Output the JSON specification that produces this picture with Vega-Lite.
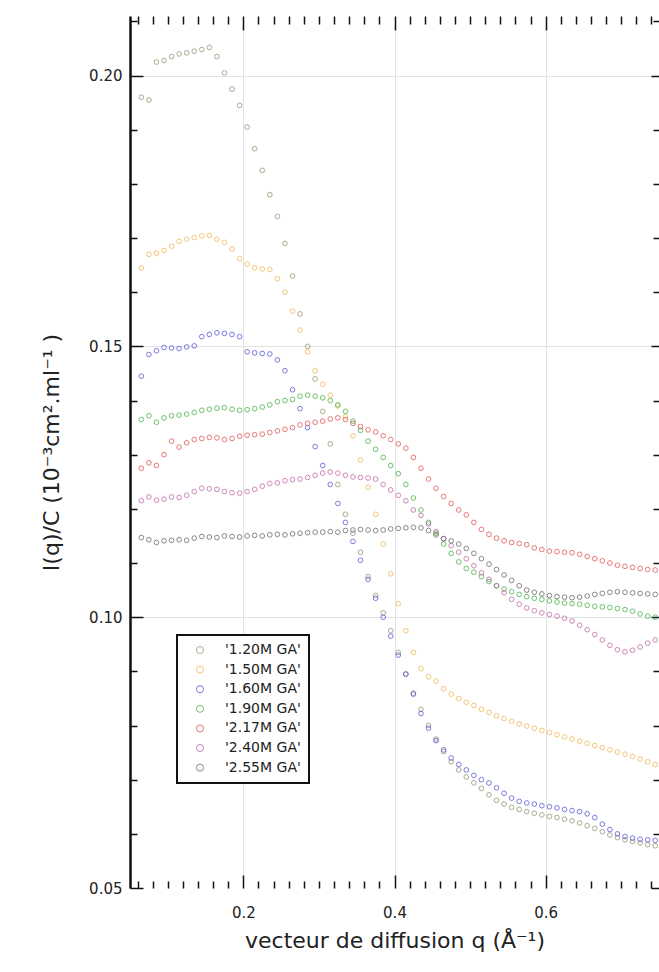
{
"$schema": "https://vega.github.io/schema/vega-lite/v6.json",
"width": 529, "height": 872,
"autosize": {"type": "none"},
"padding": {"left": 130, "top": 16, "right": 0, "bottom": 84},
"background": "white",
"config": {
  "view": {"stroke": null},
  "font": "DejaVu Sans",
  "axis": {"labelFont": "DejaVu Sans", "labelFontSize": 15, "titleFont": "DejaVu Sans", "titleFontSize": 22, "titleFontWeight": "normal", "labelColor": "#222", "titleColor": "#222", "tickColor": "#111", "tickWidth": 1.5, "labelOverlap": false, "labelFlush": false, "labelBound": false, "domain": false, "grid": false},
  "legend": {"strokeWidth": 2}
},
"data": {"values": [
{"s":"'1.20M GA'","q":0.065,"i":0.196},{"s":"'1.20M GA'","q":0.075,"i":0.1955},{"s":"'1.20M GA'","q":0.085,"i":0.2025},{"s":"'1.20M GA'","q":0.095,"i":0.2028},{"s":"'1.20M GA'","q":0.105,"i":0.2035},{"s":"'1.20M GA'","q":0.115,"i":0.204},{"s":"'1.20M GA'","q":0.125,"i":0.2042},{"s":"'1.20M GA'","q":0.135,"i":0.2045},{"s":"'1.20M GA'","q":0.145,"i":0.2048},{"s":"'1.20M GA'","q":0.155,"i":0.2052},{"s":"'1.20M GA'","q":0.165,"i":0.2035},{"s":"'1.20M GA'","q":0.175,"i":0.2005},{"s":"'1.20M GA'","q":0.185,"i":0.1975},{"s":"'1.20M GA'","q":0.195,"i":0.1945},{"s":"'1.20M GA'","q":0.205,"i":0.1905},{"s":"'1.20M GA'","q":0.215,"i":0.1865},{"s":"'1.20M GA'","q":0.225,"i":0.1825},{"s":"'1.20M GA'","q":0.235,"i":0.178},{"s":"'1.20M GA'","q":0.245,"i":0.174},{"s":"'1.20M GA'","q":0.255,"i":0.169},{"s":"'1.20M GA'","q":0.265,"i":0.163},{"s":"'1.20M GA'","q":0.275,"i":0.156},{"s":"'1.20M GA'","q":0.285,"i":0.150},{"s":"'1.20M GA'","q":0.295,"i":0.144},{"s":"'1.20M GA'","q":0.305,"i":0.138},{"s":"'1.20M GA'","q":0.315,"i":0.132},{"s":"'1.20M GA'","q":0.325,"i":0.1245},{"s":"'1.20M GA'","q":0.335,"i":0.119},{"s":"'1.20M GA'","q":0.345,"i":0.1155},{"s":"'1.20M GA'","q":0.355,"i":0.112},{"s":"'1.20M GA'","q":0.365,"i":0.1075},{"s":"'1.20M GA'","q":0.375,"i":0.104},{"s":"'1.20M GA'","q":0.385,"i":0.1008},{"s":"'1.20M GA'","q":0.395,"i":0.0975},{"s":"'1.20M GA'","q":0.405,"i":0.0935},{"s":"'1.20M GA'","q":0.415,"i":0.0895},{"s":"'1.20M GA'","q":0.425,"i":0.086},{"s":"'1.20M GA'","q":0.435,"i":0.083},{"s":"'1.20M GA'","q":0.445,"i":0.08},{"s":"'1.20M GA'","q":0.455,"i":0.0775},{"s":"'1.20M GA'","q":0.465,"i":0.0752},{"s":"'1.20M GA'","q":0.475,"i":0.0733},{"s":"'1.20M GA'","q":0.485,"i":0.0718},{"s":"'1.20M GA'","q":0.495,"i":0.0705},{"s":"'1.20M GA'","q":0.505,"i":0.0694},{"s":"'1.20M GA'","q":0.515,"i":0.0684},{"s":"'1.20M GA'","q":0.525,"i":0.0672},{"s":"'1.20M GA'","q":0.535,"i":0.0662},{"s":"'1.20M GA'","q":0.545,"i":0.0655},{"s":"'1.20M GA'","q":0.555,"i":0.0649},{"s":"'1.20M GA'","q":0.565,"i":0.0645},{"s":"'1.20M GA'","q":0.575,"i":0.0641},{"s":"'1.20M GA'","q":0.585,"i":0.0638},{"s":"'1.20M GA'","q":0.595,"i":0.0635},{"s":"'1.20M GA'","q":0.605,"i":0.0632},{"s":"'1.20M GA'","q":0.615,"i":0.063},{"s":"'1.20M GA'","q":0.625,"i":0.0627},{"s":"'1.20M GA'","q":0.635,"i":0.0624},{"s":"'1.20M GA'","q":0.645,"i":0.062},{"s":"'1.20M GA'","q":0.655,"i":0.0615},{"s":"'1.20M GA'","q":0.665,"i":0.061},{"s":"'1.20M GA'","q":0.675,"i":0.0604},{"s":"'1.20M GA'","q":0.685,"i":0.0598},{"s":"'1.20M GA'","q":0.695,"i":0.0593},{"s":"'1.20M GA'","q":0.705,"i":0.0589},{"s":"'1.20M GA'","q":0.715,"i":0.0586},{"s":"'1.20M GA'","q":0.725,"i":0.0583},{"s":"'1.20M GA'","q":0.735,"i":0.058},{"s":"'1.20M GA'","q":0.745,"i":0.0578},
{"s":"'1.50M GA'","q":0.065,"i":0.1645},{"s":"'1.50M GA'","q":0.075,"i":0.167},{"s":"'1.50M GA'","q":0.085,"i":0.1672},{"s":"'1.50M GA'","q":0.095,"i":0.1677},{"s":"'1.50M GA'","q":0.105,"i":0.1685},{"s":"'1.50M GA'","q":0.115,"i":0.1694},{"s":"'1.50M GA'","q":0.125,"i":0.1698},{"s":"'1.50M GA'","q":0.135,"i":0.1701},{"s":"'1.50M GA'","q":0.145,"i":0.1704},{"s":"'1.50M GA'","q":0.155,"i":0.1705},{"s":"'1.50M GA'","q":0.165,"i":0.1698},{"s":"'1.50M GA'","q":0.175,"i":0.1692},{"s":"'1.50M GA'","q":0.185,"i":0.168},{"s":"'1.50M GA'","q":0.195,"i":0.1662},{"s":"'1.50M GA'","q":0.205,"i":0.1652},{"s":"'1.50M GA'","q":0.215,"i":0.1645},{"s":"'1.50M GA'","q":0.225,"i":0.1643},{"s":"'1.50M GA'","q":0.235,"i":0.1642},{"s":"'1.50M GA'","q":0.245,"i":0.1625},{"s":"'1.50M GA'","q":0.255,"i":0.16},{"s":"'1.50M GA'","q":0.265,"i":0.1565},{"s":"'1.50M GA'","q":0.275,"i":0.153},{"s":"'1.50M GA'","q":0.285,"i":0.149},{"s":"'1.50M GA'","q":0.295,"i":0.1455},{"s":"'1.50M GA'","q":0.305,"i":0.143},{"s":"'1.50M GA'","q":0.315,"i":0.141},{"s":"'1.50M GA'","q":0.325,"i":0.139},{"s":"'1.50M GA'","q":0.335,"i":0.137},{"s":"'1.50M GA'","q":0.345,"i":0.1335},{"s":"'1.50M GA'","q":0.355,"i":0.129},{"s":"'1.50M GA'","q":0.365,"i":0.124},{"s":"'1.50M GA'","q":0.375,"i":0.119},{"s":"'1.50M GA'","q":0.385,"i":0.1135},{"s":"'1.50M GA'","q":0.395,"i":0.108},{"s":"'1.50M GA'","q":0.405,"i":0.1025},{"s":"'1.50M GA'","q":0.415,"i":0.0975},{"s":"'1.50M GA'","q":0.425,"i":0.0935},{"s":"'1.50M GA'","q":0.435,"i":0.0905},{"s":"'1.50M GA'","q":0.445,"i":0.089},{"s":"'1.50M GA'","q":0.455,"i":0.0882},{"s":"'1.50M GA'","q":0.465,"i":0.0868},{"s":"'1.50M GA'","q":0.475,"i":0.0858},{"s":"'1.50M GA'","q":0.485,"i":0.085},{"s":"'1.50M GA'","q":0.495,"i":0.0843},{"s":"'1.50M GA'","q":0.505,"i":0.0837},{"s":"'1.50M GA'","q":0.515,"i":0.083},{"s":"'1.50M GA'","q":0.525,"i":0.0824},{"s":"'1.50M GA'","q":0.535,"i":0.0818},{"s":"'1.50M GA'","q":0.545,"i":0.0813},{"s":"'1.50M GA'","q":0.555,"i":0.0808},{"s":"'1.50M GA'","q":0.565,"i":0.0803},{"s":"'1.50M GA'","q":0.575,"i":0.0799},{"s":"'1.50M GA'","q":0.585,"i":0.0795},{"s":"'1.50M GA'","q":0.595,"i":0.0791},{"s":"'1.50M GA'","q":0.605,"i":0.0787},{"s":"'1.50M GA'","q":0.615,"i":0.0783},{"s":"'1.50M GA'","q":0.625,"i":0.0779},{"s":"'1.50M GA'","q":0.635,"i":0.0775},{"s":"'1.50M GA'","q":0.645,"i":0.0771},{"s":"'1.50M GA'","q":0.655,"i":0.0767},{"s":"'1.50M GA'","q":0.665,"i":0.0763},{"s":"'1.50M GA'","q":0.675,"i":0.0759},{"s":"'1.50M GA'","q":0.685,"i":0.0755},{"s":"'1.50M GA'","q":0.695,"i":0.0751},{"s":"'1.50M GA'","q":0.705,"i":0.0747},{"s":"'1.50M GA'","q":0.715,"i":0.0743},{"s":"'1.50M GA'","q":0.725,"i":0.0738},{"s":"'1.50M GA'","q":0.735,"i":0.0733},{"s":"'1.50M GA'","q":0.745,"i":0.0728},
{"s":"'1.60M GA'","q":0.065,"i":0.1445},{"s":"'1.60M GA'","q":0.075,"i":0.1485},{"s":"'1.60M GA'","q":0.085,"i":0.1492},{"s":"'1.60M GA'","q":0.095,"i":0.1498},{"s":"'1.60M GA'","q":0.105,"i":0.1497},{"s":"'1.60M GA'","q":0.115,"i":0.1496},{"s":"'1.60M GA'","q":0.125,"i":0.1499},{"s":"'1.60M GA'","q":0.135,"i":0.1501},{"s":"'1.60M GA'","q":0.145,"i":0.1518},{"s":"'1.60M GA'","q":0.155,"i":0.1522},{"s":"'1.60M GA'","q":0.165,"i":0.1525},{"s":"'1.60M GA'","q":0.175,"i":0.1524},{"s":"'1.60M GA'","q":0.185,"i":0.1522},{"s":"'1.60M GA'","q":0.195,"i":0.1518},{"s":"'1.60M GA'","q":0.205,"i":0.149},{"s":"'1.60M GA'","q":0.215,"i":0.1488},{"s":"'1.60M GA'","q":0.225,"i":0.1487},{"s":"'1.60M GA'","q":0.235,"i":0.1486},{"s":"'1.60M GA'","q":0.245,"i":0.1475},{"s":"'1.60M GA'","q":0.255,"i":0.1455},{"s":"'1.60M GA'","q":0.265,"i":0.142},{"s":"'1.60M GA'","q":0.275,"i":0.1385},{"s":"'1.60M GA'","q":0.285,"i":0.135},{"s":"'1.60M GA'","q":0.295,"i":0.1315},{"s":"'1.60M GA'","q":0.305,"i":0.128},{"s":"'1.60M GA'","q":0.315,"i":0.1245},{"s":"'1.60M GA'","q":0.325,"i":0.121},{"s":"'1.60M GA'","q":0.335,"i":0.1175},{"s":"'1.60M GA'","q":0.345,"i":0.114},{"s":"'1.60M GA'","q":0.355,"i":0.1105},{"s":"'1.60M GA'","q":0.365,"i":0.107},{"s":"'1.60M GA'","q":0.375,"i":0.1035},{"s":"'1.60M GA'","q":0.385,"i":0.1},{"s":"'1.60M GA'","q":0.395,"i":0.0965},{"s":"'1.60M GA'","q":0.405,"i":0.093},{"s":"'1.60M GA'","q":0.415,"i":0.0895},{"s":"'1.60M GA'","q":0.425,"i":0.0858},{"s":"'1.60M GA'","q":0.435,"i":0.0822},{"s":"'1.60M GA'","q":0.445,"i":0.0795},{"s":"'1.60M GA'","q":0.455,"i":0.0772},{"s":"'1.60M GA'","q":0.465,"i":0.0755},{"s":"'1.60M GA'","q":0.475,"i":0.074},{"s":"'1.60M GA'","q":0.485,"i":0.0728},{"s":"'1.60M GA'","q":0.495,"i":0.0718},{"s":"'1.60M GA'","q":0.505,"i":0.0708},{"s":"'1.60M GA'","q":0.515,"i":0.07},{"s":"'1.60M GA'","q":0.525,"i":0.0694},{"s":"'1.60M GA'","q":0.535,"i":0.0685},{"s":"'1.60M GA'","q":0.545,"i":0.0675},{"s":"'1.60M GA'","q":0.555,"i":0.0666},{"s":"'1.60M GA'","q":0.565,"i":0.066},{"s":"'1.60M GA'","q":0.575,"i":0.0657},{"s":"'1.60M GA'","q":0.585,"i":0.0655},{"s":"'1.60M GA'","q":0.595,"i":0.0652},{"s":"'1.60M GA'","q":0.605,"i":0.065},{"s":"'1.60M GA'","q":0.615,"i":0.0648},{"s":"'1.60M GA'","q":0.625,"i":0.0645},{"s":"'1.60M GA'","q":0.635,"i":0.0643},{"s":"'1.60M GA'","q":0.645,"i":0.0641},{"s":"'1.60M GA'","q":0.655,"i":0.0637},{"s":"'1.60M GA'","q":0.665,"i":0.063},{"s":"'1.60M GA'","q":0.675,"i":0.0618},{"s":"'1.60M GA'","q":0.685,"i":0.0608},{"s":"'1.60M GA'","q":0.695,"i":0.06},{"s":"'1.60M GA'","q":0.705,"i":0.0595},{"s":"'1.60M GA'","q":0.715,"i":0.0592},{"s":"'1.60M GA'","q":0.725,"i":0.059},{"s":"'1.60M GA'","q":0.735,"i":0.0589},{"s":"'1.60M GA'","q":0.745,"i":0.0588},
{"s":"'1.90M GA'","q":0.065,"i":0.1365},{"s":"'1.90M GA'","q":0.075,"i":0.1372},{"s":"'1.90M GA'","q":0.085,"i":0.136},{"s":"'1.90M GA'","q":0.095,"i":0.1368},{"s":"'1.90M GA'","q":0.105,"i":0.1372},{"s":"'1.90M GA'","q":0.115,"i":0.1373},{"s":"'1.90M GA'","q":0.125,"i":0.1375},{"s":"'1.90M GA'","q":0.135,"i":0.1378},{"s":"'1.90M GA'","q":0.145,"i":0.1382},{"s":"'1.90M GA'","q":0.155,"i":0.1384},{"s":"'1.90M GA'","q":0.165,"i":0.1386},{"s":"'1.90M GA'","q":0.175,"i":0.1387},{"s":"'1.90M GA'","q":0.185,"i":0.1384},{"s":"'1.90M GA'","q":0.195,"i":0.1382},{"s":"'1.90M GA'","q":0.205,"i":0.1383},{"s":"'1.90M GA'","q":0.215,"i":0.1385},{"s":"'1.90M GA'","q":0.225,"i":0.1388},{"s":"'1.90M GA'","q":0.235,"i":0.1392},{"s":"'1.90M GA'","q":0.245,"i":0.1398},{"s":"'1.90M GA'","q":0.255,"i":0.14},{"s":"'1.90M GA'","q":0.265,"i":0.1402},{"s":"'1.90M GA'","q":0.275,"i":0.1408},{"s":"'1.90M GA'","q":0.285,"i":0.141},{"s":"'1.90M GA'","q":0.295,"i":0.1408},{"s":"'1.90M GA'","q":0.305,"i":0.1405},{"s":"'1.90M GA'","q":0.315,"i":0.14},{"s":"'1.90M GA'","q":0.325,"i":0.1392},{"s":"'1.90M GA'","q":0.335,"i":0.138},{"s":"'1.90M GA'","q":0.345,"i":0.1362},{"s":"'1.90M GA'","q":0.355,"i":0.1345},{"s":"'1.90M GA'","q":0.365,"i":0.1325},{"s":"'1.90M GA'","q":0.375,"i":0.131},{"s":"'1.90M GA'","q":0.385,"i":0.1295},{"s":"'1.90M GA'","q":0.395,"i":0.128},{"s":"'1.90M GA'","q":0.405,"i":0.1265},{"s":"'1.90M GA'","q":0.415,"i":0.1245},{"s":"'1.90M GA'","q":0.425,"i":0.122},{"s":"'1.90M GA'","q":0.435,"i":0.1198},{"s":"'1.90M GA'","q":0.445,"i":0.1175},{"s":"'1.90M GA'","q":0.455,"i":0.1155},{"s":"'1.90M GA'","q":0.465,"i":0.1135},{"s":"'1.90M GA'","q":0.475,"i":0.1118},{"s":"'1.90M GA'","q":0.485,"i":0.1102},{"s":"'1.90M GA'","q":0.495,"i":0.109},{"s":"'1.90M GA'","q":0.505,"i":0.1083},{"s":"'1.90M GA'","q":0.515,"i":0.1075},{"s":"'1.90M GA'","q":0.525,"i":0.1066},{"s":"'1.90M GA'","q":0.535,"i":0.1058},{"s":"'1.90M GA'","q":0.545,"i":0.1052},{"s":"'1.90M GA'","q":0.555,"i":0.1047},{"s":"'1.90M GA'","q":0.565,"i":0.1042},{"s":"'1.90M GA'","q":0.575,"i":0.1038},{"s":"'1.90M GA'","q":0.585,"i":0.1035},{"s":"'1.90M GA'","q":0.595,"i":0.1033},{"s":"'1.90M GA'","q":0.605,"i":0.103},{"s":"'1.90M GA'","q":0.615,"i":0.1028},{"s":"'1.90M GA'","q":0.625,"i":0.1026},{"s":"'1.90M GA'","q":0.635,"i":0.1025},{"s":"'1.90M GA'","q":0.645,"i":0.1024},{"s":"'1.90M GA'","q":0.655,"i":0.1022},{"s":"'1.90M GA'","q":0.665,"i":0.102},{"s":"'1.90M GA'","q":0.675,"i":0.1019},{"s":"'1.90M GA'","q":0.685,"i":0.1018},{"s":"'1.90M GA'","q":0.695,"i":0.1016},{"s":"'1.90M GA'","q":0.705,"i":0.1014},{"s":"'1.90M GA'","q":0.715,"i":0.1011},{"s":"'1.90M GA'","q":0.725,"i":0.1006},{"s":"'1.90M GA'","q":0.735,"i":0.1002},{"s":"'1.90M GA'","q":0.745,"i":0.1},
{"s":"'2.17M GA'","q":0.065,"i":0.1275},{"s":"'2.17M GA'","q":0.075,"i":0.1285},{"s":"'2.17M GA'","q":0.085,"i":0.128},{"s":"'2.17M GA'","q":0.095,"i":0.13},{"s":"'2.17M GA'","q":0.105,"i":0.1325},{"s":"'2.17M GA'","q":0.115,"i":0.1314},{"s":"'2.17M GA'","q":0.125,"i":0.1322},{"s":"'2.17M GA'","q":0.135,"i":0.1328},{"s":"'2.17M GA'","q":0.145,"i":0.133},{"s":"'2.17M GA'","q":0.155,"i":0.1332},{"s":"'2.17M GA'","q":0.165,"i":0.1331},{"s":"'2.17M GA'","q":0.175,"i":0.1328},{"s":"'2.17M GA'","q":0.185,"i":0.133},{"s":"'2.17M GA'","q":0.195,"i":0.1334},{"s":"'2.17M GA'","q":0.205,"i":0.1336},{"s":"'2.17M GA'","q":0.215,"i":0.1337},{"s":"'2.17M GA'","q":0.225,"i":0.1338},{"s":"'2.17M GA'","q":0.235,"i":0.1341},{"s":"'2.17M GA'","q":0.245,"i":0.1344},{"s":"'2.17M GA'","q":0.255,"i":0.1347},{"s":"'2.17M GA'","q":0.265,"i":0.135},{"s":"'2.17M GA'","q":0.275,"i":0.1355},{"s":"'2.17M GA'","q":0.285,"i":0.1358},{"s":"'2.17M GA'","q":0.295,"i":0.136},{"s":"'2.17M GA'","q":0.305,"i":0.1362},{"s":"'2.17M GA'","q":0.315,"i":0.1366},{"s":"'2.17M GA'","q":0.325,"i":0.1368},{"s":"'2.17M GA'","q":0.335,"i":0.1365},{"s":"'2.17M GA'","q":0.345,"i":0.1358},{"s":"'2.17M GA'","q":0.355,"i":0.1352},{"s":"'2.17M GA'","q":0.365,"i":0.1346},{"s":"'2.17M GA'","q":0.375,"i":0.1342},{"s":"'2.17M GA'","q":0.385,"i":0.1335},{"s":"'2.17M GA'","q":0.395,"i":0.1328},{"s":"'2.17M GA'","q":0.405,"i":0.132},{"s":"'2.17M GA'","q":0.415,"i":0.1312},{"s":"'2.17M GA'","q":0.425,"i":0.1295},{"s":"'2.17M GA'","q":0.435,"i":0.1275},{"s":"'2.17M GA'","q":0.445,"i":0.1255},{"s":"'2.17M GA'","q":0.455,"i":0.1238},{"s":"'2.17M GA'","q":0.465,"i":0.1223},{"s":"'2.17M GA'","q":0.475,"i":0.121},{"s":"'2.17M GA'","q":0.485,"i":0.1198},{"s":"'2.17M GA'","q":0.495,"i":0.1189},{"s":"'2.17M GA'","q":0.505,"i":0.1175},{"s":"'2.17M GA'","q":0.515,"i":0.1162},{"s":"'2.17M GA'","q":0.525,"i":0.1153},{"s":"'2.17M GA'","q":0.535,"i":0.1146},{"s":"'2.17M GA'","q":0.545,"i":0.1141},{"s":"'2.17M GA'","q":0.555,"i":0.1138},{"s":"'2.17M GA'","q":0.565,"i":0.1136},{"s":"'2.17M GA'","q":0.575,"i":0.1134},{"s":"'2.17M GA'","q":0.585,"i":0.1128},{"s":"'2.17M GA'","q":0.595,"i":0.1125},{"s":"'2.17M GA'","q":0.605,"i":0.1122},{"s":"'2.17M GA'","q":0.615,"i":0.1121},{"s":"'2.17M GA'","q":0.625,"i":0.112},{"s":"'2.17M GA'","q":0.635,"i":0.1119},{"s":"'2.17M GA'","q":0.645,"i":0.1116},{"s":"'2.17M GA'","q":0.655,"i":0.1112},{"s":"'2.17M GA'","q":0.665,"i":0.1108},{"s":"'2.17M GA'","q":0.675,"i":0.1104},{"s":"'2.17M GA'","q":0.685,"i":0.11},{"s":"'2.17M GA'","q":0.695,"i":0.1096},{"s":"'2.17M GA'","q":0.705,"i":0.1094},{"s":"'2.17M GA'","q":0.715,"i":0.1092},{"s":"'2.17M GA'","q":0.725,"i":0.109},{"s":"'2.17M GA'","q":0.735,"i":0.1088},{"s":"'2.17M GA'","q":0.745,"i":0.1087},
{"s":"'2.40M GA'","q":0.065,"i":0.1215},{"s":"'2.40M GA'","q":0.075,"i":0.1222},{"s":"'2.40M GA'","q":0.085,"i":0.1216},{"s":"'2.40M GA'","q":0.095,"i":0.1218},{"s":"'2.40M GA'","q":0.105,"i":0.1222},{"s":"'2.40M GA'","q":0.115,"i":0.1221},{"s":"'2.40M GA'","q":0.125,"i":0.1225},{"s":"'2.40M GA'","q":0.135,"i":0.1232},{"s":"'2.40M GA'","q":0.145,"i":0.1238},{"s":"'2.40M GA'","q":0.155,"i":0.1237},{"s":"'2.40M GA'","q":0.165,"i":0.1236},{"s":"'2.40M GA'","q":0.175,"i":0.1232},{"s":"'2.40M GA'","q":0.185,"i":0.123},{"s":"'2.40M GA'","q":0.195,"i":0.1229},{"s":"'2.40M GA'","q":0.205,"i":0.1232},{"s":"'2.40M GA'","q":0.215,"i":0.1236},{"s":"'2.40M GA'","q":0.225,"i":0.1242},{"s":"'2.40M GA'","q":0.235,"i":0.1247},{"s":"'2.40M GA'","q":0.245,"i":0.1248},{"s":"'2.40M GA'","q":0.255,"i":0.1252},{"s":"'2.40M GA'","q":0.265,"i":0.1254},{"s":"'2.40M GA'","q":0.275,"i":0.1255},{"s":"'2.40M GA'","q":0.285,"i":0.1258},{"s":"'2.40M GA'","q":0.295,"i":0.1262},{"s":"'2.40M GA'","q":0.305,"i":0.1266},{"s":"'2.40M GA'","q":0.315,"i":0.1268},{"s":"'2.40M GA'","q":0.325,"i":0.1266},{"s":"'2.40M GA'","q":0.335,"i":0.1262},{"s":"'2.40M GA'","q":0.345,"i":0.1259},{"s":"'2.40M GA'","q":0.355,"i":0.1258},{"s":"'2.40M GA'","q":0.365,"i":0.1257},{"s":"'2.40M GA'","q":0.375,"i":0.1255},{"s":"'2.40M GA'","q":0.385,"i":0.1245},{"s":"'2.40M GA'","q":0.395,"i":0.1235},{"s":"'2.40M GA'","q":0.405,"i":0.1225},{"s":"'2.40M GA'","q":0.415,"i":0.1215},{"s":"'2.40M GA'","q":0.425,"i":0.1198},{"s":"'2.40M GA'","q":0.435,"i":0.1188},{"s":"'2.40M GA'","q":0.445,"i":0.1172},{"s":"'2.40M GA'","q":0.455,"i":0.1158},{"s":"'2.40M GA'","q":0.465,"i":0.1145},{"s":"'2.40M GA'","q":0.475,"i":0.1132},{"s":"'2.40M GA'","q":0.485,"i":0.112},{"s":"'2.40M GA'","q":0.495,"i":0.1108},{"s":"'2.40M GA'","q":0.505,"i":0.1095},{"s":"'2.40M GA'","q":0.515,"i":0.1082},{"s":"'2.40M GA'","q":0.525,"i":0.107},{"s":"'2.40M GA'","q":0.535,"i":0.1058},{"s":"'2.40M GA'","q":0.545,"i":0.1045},{"s":"'2.40M GA'","q":0.555,"i":0.1033},{"s":"'2.40M GA'","q":0.565,"i":0.1024},{"s":"'2.40M GA'","q":0.575,"i":0.1017},{"s":"'2.40M GA'","q":0.585,"i":0.1012},{"s":"'2.40M GA'","q":0.595,"i":0.1008},{"s":"'2.40M GA'","q":0.605,"i":0.1005},{"s":"'2.40M GA'","q":0.615,"i":0.1002},{"s":"'2.40M GA'","q":0.625,"i":0.0998},{"s":"'2.40M GA'","q":0.635,"i":0.0993},{"s":"'2.40M GA'","q":0.645,"i":0.0985},{"s":"'2.40M GA'","q":0.655,"i":0.0977},{"s":"'2.40M GA'","q":0.665,"i":0.0968},{"s":"'2.40M GA'","q":0.675,"i":0.0958},{"s":"'2.40M GA'","q":0.685,"i":0.0948},{"s":"'2.40M GA'","q":0.695,"i":0.094},{"s":"'2.40M GA'","q":0.705,"i":0.0936},{"s":"'2.40M GA'","q":0.715,"i":0.0939},{"s":"'2.40M GA'","q":0.725,"i":0.0945},{"s":"'2.40M GA'","q":0.735,"i":0.0952},{"s":"'2.40M GA'","q":0.745,"i":0.0958},
{"s":"'2.55M GA'","q":0.065,"i":0.1147},{"s":"'2.55M GA'","q":0.075,"i":0.1143},{"s":"'2.55M GA'","q":0.085,"i":0.1138},{"s":"'2.55M GA'","q":0.095,"i":0.1141},{"s":"'2.55M GA'","q":0.105,"i":0.1142},{"s":"'2.55M GA'","q":0.115,"i":0.1143},{"s":"'2.55M GA'","q":0.125,"i":0.1142},{"s":"'2.55M GA'","q":0.135,"i":0.1146},{"s":"'2.55M GA'","q":0.145,"i":0.1149},{"s":"'2.55M GA'","q":0.155,"i":0.1148},{"s":"'2.55M GA'","q":0.165,"i":0.1147},{"s":"'2.55M GA'","q":0.175,"i":0.115},{"s":"'2.55M GA'","q":0.185,"i":0.1149},{"s":"'2.55M GA'","q":0.195,"i":0.1148},{"s":"'2.55M GA'","q":0.205,"i":0.115},{"s":"'2.55M GA'","q":0.215,"i":0.1151},{"s":"'2.55M GA'","q":0.225,"i":0.115},{"s":"'2.55M GA'","q":0.235,"i":0.1152},{"s":"'2.55M GA'","q":0.245,"i":0.1153},{"s":"'2.55M GA'","q":0.255,"i":0.1152},{"s":"'2.55M GA'","q":0.265,"i":0.1154},{"s":"'2.55M GA'","q":0.275,"i":0.1155},{"s":"'2.55M GA'","q":0.285,"i":0.1156},{"s":"'2.55M GA'","q":0.295,"i":0.1157},{"s":"'2.55M GA'","q":0.305,"i":0.1157},{"s":"'2.55M GA'","q":0.315,"i":0.1158},{"s":"'2.55M GA'","q":0.325,"i":0.1157},{"s":"'2.55M GA'","q":0.335,"i":0.116},{"s":"'2.55M GA'","q":0.345,"i":0.1161},{"s":"'2.55M GA'","q":0.355,"i":0.1162},{"s":"'2.55M GA'","q":0.365,"i":0.1161},{"s":"'2.55M GA'","q":0.375,"i":0.116},{"s":"'2.55M GA'","q":0.385,"i":0.1161},{"s":"'2.55M GA'","q":0.395,"i":0.1163},{"s":"'2.55M GA'","q":0.405,"i":0.1164},{"s":"'2.55M GA'","q":0.415,"i":0.1165},{"s":"'2.55M GA'","q":0.425,"i":0.1166},{"s":"'2.55M GA'","q":0.435,"i":0.1165},{"s":"'2.55M GA'","q":0.445,"i":0.116},{"s":"'2.55M GA'","q":0.455,"i":0.1152},{"s":"'2.55M GA'","q":0.465,"i":0.1145},{"s":"'2.55M GA'","q":0.475,"i":0.1141},{"s":"'2.55M GA'","q":0.485,"i":0.1135},{"s":"'2.55M GA'","q":0.495,"i":0.1127},{"s":"'2.55M GA'","q":0.505,"i":0.1118},{"s":"'2.55M GA'","q":0.515,"i":0.1108},{"s":"'2.55M GA'","q":0.525,"i":0.1098},{"s":"'2.55M GA'","q":0.535,"i":0.1088},{"s":"'2.55M GA'","q":0.545,"i":0.1078},{"s":"'2.55M GA'","q":0.555,"i":0.1068},{"s":"'2.55M GA'","q":0.565,"i":0.1058},{"s":"'2.55M GA'","q":0.575,"i":0.105},{"s":"'2.55M GA'","q":0.585,"i":0.1046},{"s":"'2.55M GA'","q":0.595,"i":0.1043},{"s":"'2.55M GA'","q":0.605,"i":0.104},{"s":"'2.55M GA'","q":0.615,"i":0.1038},{"s":"'2.55M GA'","q":0.625,"i":0.1037},{"s":"'2.55M GA'","q":0.635,"i":0.1036},{"s":"'2.55M GA'","q":0.645,"i":0.1037},{"s":"'2.55M GA'","q":0.655,"i":0.1039},{"s":"'2.55M GA'","q":0.665,"i":0.1042},{"s":"'2.55M GA'","q":0.675,"i":0.1044},{"s":"'2.55M GA'","q":0.685,"i":0.1046},{"s":"'2.55M GA'","q":0.695,"i":0.1047},{"s":"'2.55M GA'","q":0.705,"i":0.1046},{"s":"'2.55M GA'","q":0.715,"i":0.1045},{"s":"'2.55M GA'","q":0.725,"i":0.1044},{"s":"'2.55M GA'","q":0.735,"i":0.1043},{"s":"'2.55M GA'","q":0.745,"i":0.1042}
]},
"layer": [
  {
    "mark": {"type": "point", "opacity": 0},
    "encoding": {
      "x": {"field": "q", "type": "quantitative",
        "scale": {"domain": [0.05, 0.75], "nice": false, "zero": false},
        "axis": {"orient": "bottom", "title": null, "labels": false, "ticks": false, "domain": false,
          "values": [0.2, 0.4, 0.6], "grid": true, "gridColor": "#e2e2e2", "gridWidth": 1}},
      "y": {"field": "i", "type": "quantitative",
        "scale": {"domain": [0.05, 0.211], "nice": false, "zero": false},
        "axis": {"orient": "left", "title": null, "labels": false, "ticks": false, "domain": false,
          "values": [0.1, 0.15, 0.2], "grid": true, "gridColor": "#e2e2e2", "gridWidth": 1}}
    }
  },
  {
    "mark": {"type": "point", "filled": false, "size": 22, "strokeWidth": 1, "opacity": 0.75},
    "encoding": {
      "x": {"field": "q", "type": "quantitative",
        "scale": {"domain": [0.05, 0.75], "nice": false, "zero": false},
        "axis": {"orient": "bottom", "title": "vecteur de diffusion q (Å⁻¹)", "titlePadding": 4,
          "values": [0.06,0.08,0.1,0.12,0.14,0.16,0.18,0.2,0.22,0.24,0.26,0.28,0.3,0.32,0.34,0.36,0.38,0.4,0.42,0.44,0.46,0.48,0.5,0.52,0.54,0.56,0.58,0.6,0.62,0.64,0.66,0.68,0.7,0.72,0.74],
          "labelExpr": "abs(datum.value*5-round(datum.value*5))<0.001 ? format(datum.value,'.1f') : ''",
          "tickSize": {"condition": {"test": "abs(datum.value*5-round(datum.value*5))<0.001", "value": -13}, "value": -7},
          "labelPadding": 30}},
      "y": {"field": "i", "type": "quantitative",
        "scale": {"domain": [0.05, 0.211], "nice": false, "zero": false},
        "axis": {"orient": "left", "title": "I(q)/C (10⁻³cm².ml⁻¹ )", "titlePadding": 25,
          "values": [0.05,0.06,0.07,0.08,0.09,0.1,0.11,0.12,0.13,0.14,0.15,0.16,0.17,0.18,0.19,0.2,0.21],
          "labelExpr": "abs(datum.value*20-round(datum.value*20))<0.001 ? format(datum.value,'.2f') : ''",
          "tickSize": {"condition": {"test": "abs(datum.value*20-round(datum.value*20))<0.001", "value": -13}, "value": -7},
          "labelPadding": 21,
          "domain": true, "domainColor": "#111", "domainWidth": 2.5}},
      "color": {"field": "s", "type": "nominal",
        "scale": {"domain": ["'1.20M GA'", "'1.50M GA'", "'1.60M GA'", "'1.90M GA'", "'2.17M GA'", "'2.40M GA'", "'2.55M GA'"],
                  "range": ["#8f8f6a", "#f2b24a", "#4f4fd6", "#3cae3c", "#e24a4a", "#c060a0", "#606060"]},
        "legend": {"orient": "none", "legendX": 47, "legendY": 619, "title": null, "padding": 8,
          "strokeColor": "#111", "fillColor": "white", "symbolType": "circle", "symbolSize": 50,
          "symbolStrokeWidth": 1, "symbolOffset": 8, "labelOffset": 18, "labelFontSize": 14,
          "labelFont": "DejaVu Sans", "labelColor": "#222", "rowPadding": 5.6}}
    }
  },
  {
    "mark": {"type": "point", "opacity": 0},
    "encoding": {
      "x": {"field": "q", "type": "quantitative",
        "scale": {"domain": [0.05, 0.75], "nice": false, "zero": false},
        "axis": {"orient": "top", "title": null, "labels": false,
          "values": [0.06,0.08,0.1,0.12,0.14,0.16,0.18,0.2,0.22,0.24,0.26,0.28,0.3,0.32,0.34,0.36,0.38,0.4,0.42,0.44,0.46,0.48,0.5,0.52,0.54,0.56,0.58,0.6,0.62,0.64,0.66,0.68,0.7,0.72,0.74],
          "tickSize": {"condition": {"test": "abs(datum.value*5-round(datum.value*5))<0.001", "value": -14}, "value": -8}}},
      "y": {"field": "i", "type": "quantitative",
        "scale": {"domain": [0.05, 0.211], "nice": false, "zero": false},
        "axis": {"orient": "right", "title": null, "labels": false,
          "values": [0.05,0.06,0.07,0.08,0.09,0.1,0.11,0.12,0.13,0.14,0.15,0.16,0.17,0.18,0.19,0.2,0.21],
          "tickSize": {"condition": {"test": "abs(datum.value*20-round(datum.value*20))<0.001", "value": -8}, "value": -6}}}
    }
  }
],
"resolve": {"axis": {"x": "independent", "y": "independent"}}
}
